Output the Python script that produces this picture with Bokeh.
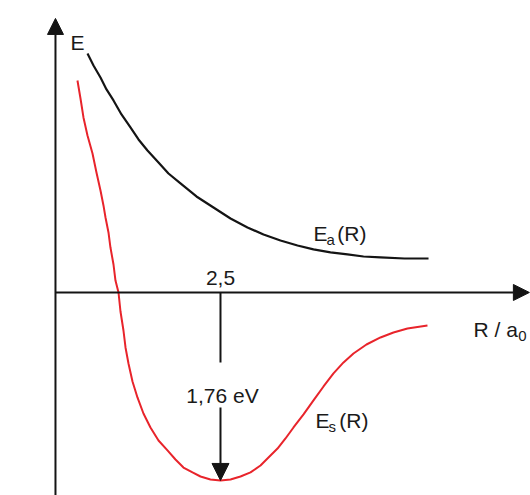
from bokeh.plotting import figure
from bokeh.models import Range1d, Arrow, NormalHead
from bokeh.core.properties import value
from bokeh.embed import file_html
from bokeh.resources import INLINE

# Internuclear distance R in units of a0, energies in eV
r_anti = [0.485, 0.576, 0.682, 0.773, 0.879, 1.0, 1.136, 1.258, 1.394, 1.561, 1.712, 1.894,
          2.136, 2.394, 2.652, 2.909, 3.152, 3.409, 3.667, 3.909, 4.167, 4.424, 4.667, 4.924,
          5.288, 5.652]
e_anti = [2.238, 2.125, 2.013, 1.901, 1.798, 1.667, 1.545, 1.433, 1.330, 1.217, 1.114, 1.021,
          0.899, 0.796, 0.693, 0.609, 0.543, 0.487, 0.440, 0.403, 0.375, 0.356, 0.337, 0.328,
          0.318, 0.318]

r_bond = [0.333, 0.379, 0.424, 0.485, 0.561, 0.621, 0.682, 0.727, 0.758, 0.803, 0.833, 0.879,
          0.909, 0.955, 0.985, 1.030, 1.061, 1.106, 1.167, 1.242, 1.333, 1.439, 1.561, 1.697,
          1.818, 1.939, 2.076, 2.197, 2.348, 2.5, 2.652, 2.803, 2.955, 3.106, 3.227, 3.364,
          3.485, 3.606, 3.758, 3.909, 4.061, 4.212, 4.364, 4.515, 4.712, 4.924, 5.121, 5.333,
          5.636]
e_bond = [1.985, 1.816, 1.639, 1.470, 1.301, 1.124, 0.955, 0.815, 0.702, 0.562, 0.421, 0.262,
          0.112, 0.0, -0.178, -0.356, -0.515, -0.665, -0.833, -0.983, -1.133, -1.264, -1.386, -1.479,
          -1.564, -1.639, -1.685, -1.723, -1.751, -1.76, -1.751, -1.723, -1.685, -1.620, -1.545, -1.461,
          -1.367, -1.264, -1.142, -1.011, -0.880, -0.758, -0.655, -0.571, -0.487, -0.421, -0.375, -0.337,
          -0.309]

r_eq = 2.5             # equilibrium distance
binding_energy = 1.76  # depth of the well, eV
r_eq_label = "2,5"
energy_label = "1,76 eV"

FONT = value("Liberation Sans")
BLACK = "#141414"
RED = "#e8242b"

p = figure(width=530, height=495, output_backend="svg", toolbar_location=None,
           x_range=Range1d(-0.833, 7.197), y_range=Range1d(-1.901, 2.734),
           min_border=0)
p.axis.visible = False
p.grid.visible = False
p.outline_line_color = None
p.background_fill_color = "white"
p.border_fill_color = "white"

# energy and distance axes drawn as arrows
p.add_layout(Arrow(x_start=0, y_start=-1.95, x_end=0, y_end=2.566,
                   line_color=BLACK, line_width=2,
                   end=NormalHead(size=16, fill_color=BLACK, line_color=BLACK)))
p.add_layout(Arrow(x_start=0, y_start=0, x_end=7.18, y_end=0,
                   line_color=BLACK, line_width=2,
                   end=NormalHead(size=16, fill_color=BLACK, line_color=BLACK)))

# potential curves
p.line(r_anti, e_anti, line_color=BLACK, line_width=2.2, line_join="round")
p.line(r_bond, e_bond, line_color=RED, line_width=2, line_join="round")

# binding energy arrow, interrupted by its label
p.segment(x0=[r_eq], y0=[0], x1=[r_eq], y1=[-0.655], line_color=BLACK, line_width=2)
p.add_layout(Arrow(x_start=r_eq, y_start=-1.077, x_end=r_eq, y_end=-binding_energy,
                   line_color=BLACK, line_width=2,
                   end=NormalHead(size=17, fill_color=BLACK, line_color=BLACK)))

def label(x, y, txt, size="21px", align="left"):
    p.text(x=[x], y=[y], text=[txt], text_font=FONT, text_font_size=size,
           text_color="#1a1a1a", text_align=align, text_baseline="alphabetic")

label(0.227, 2.341, "E")
label(r_eq, 0.140, r_eq_label, size="21px", align="center")
label(r_eq + 0.03, -0.964, energy_label, size="21px", align="center")

label(3.909, 0.552, "E")
label(4.106, 0.500, "a", size="15px")
label(4.27, 0.552, "(R)")

label(3.939, -1.199, "E")
label(4.136, -1.255, "s", size="15px")
label(4.30, -1.199, "(R)")

label(6.333, -0.346, "R / a")
label(7.01, -0.412, "0", size="15px")

open("out.html", "w").write(file_html(p, INLINE))
